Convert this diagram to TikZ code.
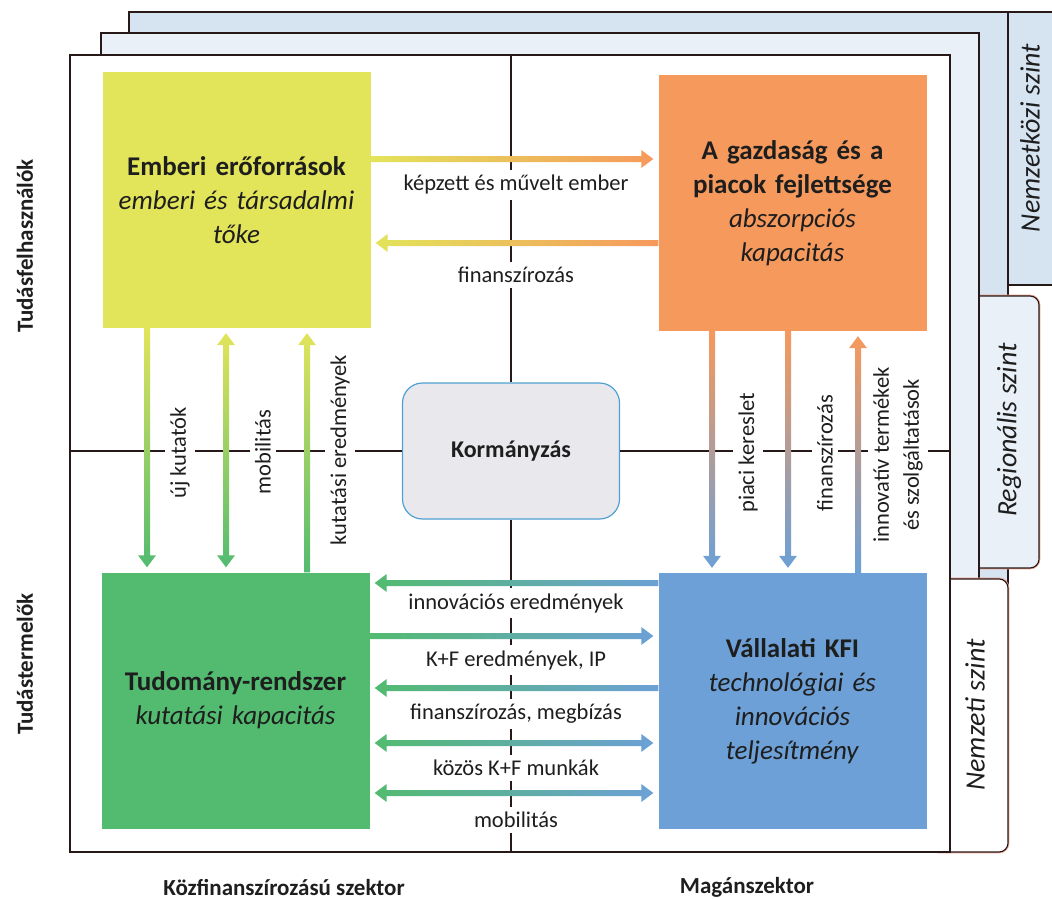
\documentclass[tikz,border=0pt]{standalone}
\usepackage{fontspec}
\setmainfont{Carlito}
\usetikzlibrary{calc}

\definecolor{ylw}{RGB}{226,228,90}
\definecolor{org}{RGB}{246,153,92}
\definecolor{grn}{RGB}{82,187,112}
\definecolor{blu}{RGB}{108,160,214}
\definecolor{govfill}{RGB}{233,233,237}
\definecolor{govline}{RGB}{80,160,210}
\definecolor{backblue}{RGB}{214,227,240}
\definecolor{midblue}{RGB}{234,240,248}
\definecolor{framedark}{RGB}{40,25,25}
\definecolor{framehalo}{RGB}{238,160,140}
\definecolor{txt}{RGB}{30,30,30}

% arrow geometry: shaft half width, head half width, head length, gap before a box
\newcommand\arrW{3pt}
\newcommand\arrH{9pt}
\newcommand\arrL{12pt}
\newcommand\arrG{5pt}

% horizontal gradient arrow: #1 shading, #2 left end, #3 right end, #4 tip at left, #5 tip at right
\newcommand\harrow[5]{%
  \ifnum#4=1
    \def\garrowA{(\x1+\arrG+\arrL,\y1+\arrW) -- (\x1+\arrG+\arrL,\y1+\arrH) -- (\x1+\arrG,\y1) -- (\x1+\arrG+\arrL,\y1-\arrH) -- (\x1+\arrG+\arrL,\y1-\arrW)}%
  \else
    \def\garrowA{(\x1,\y1+\arrW) -- (\x1,\y1-\arrW)}%
  \fi
  \ifnum#5=1
    \def\garrowB{(\x2-\arrG-\arrL,\y2-\arrW) -- (\x2-\arrG-\arrL,\y2-\arrH) -- (\x2-\arrG,\y2) -- (\x2-\arrG-\arrL,\y2+\arrH) -- (\x2-\arrG-\arrL,\y2+\arrW)}%
  \else
    \def\garrowB{(\x2,\y2-\arrW) -- (\x2,\y2+\arrW)}%
  \fi
  \shade[#1] let \p1=#2, \p2=#3 in \garrowA -- \garrowB -- cycle;
}

% vertical gradient arrow: #1 shading, #2 top end, #3 bottom end, #4 tip at top, #5 tip at bottom
\newcommand\varrow[5]{%
  \ifnum#4=1
    \def\garrowA{(\x1-\arrW,\y1-\arrG-\arrL) -- (\x1-\arrH,\y1-\arrG-\arrL) -- (\x1,\y1-\arrG) -- (\x1+\arrH,\y1-\arrG-\arrL) -- (\x1+\arrW,\y1-\arrG-\arrL)}%
  \else
    \def\garrowA{(\x1-\arrW,\y1) -- (\x1+\arrW,\y1)}%
  \fi
  \ifnum#5=1
    \def\garrowB{(\x2+\arrW,\y2+\arrG+\arrL) -- (\x2+\arrH,\y2+\arrG+\arrL) -- (\x2,\y2+\arrG) -- (\x2-\arrH,\y2+\arrG+\arrL) -- (\x2-\arrW,\y2+\arrG+\arrL)}%
  \else
    \def\garrowB{(\x2+\arrW,\y2) -- (\x2-\arrW,\y2)}%
  \fi
  \shade[#1] let \p1=#2, \p2=#3 in \garrowA -- \garrowB -- cycle;
}

\begin{document}
\begin{tikzpicture}[x=1pt,y=-1pt,
  frame/.style={draw=framedark, line width=1.1pt,
    preaction={draw=framehalo, line width=2.8pt}},
  divider/.style={draw=framedark, line width=1.1pt},
  box/.style={minimum width=268pt, minimum height=256pt, inner sep=0pt,
    text width=258pt, align=center, text=txt,
    font=\fontsize{27}{34}\selectfont},
  gov/.style={draw=govline, line width=1.2pt, fill=govfill, rounded corners=20pt,
    minimum width=217pt, minimum height=136pt, text=txt,
    font=\fontsize{24}{28}\selectfont\bfseries},
  lbl/.style={fill=white, inner xsep=3pt, inner ysep=5pt, text=txt, align=center,
    font=\fontsize{22.5}{26}\selectfont},
  vlbl/.style={lbl, rotate=90},
  side/.style={text=txt, font=\fontsize{23}{26}\selectfont\bfseries},
  tablbl/.style={rotate=90, text=txt, font=\fontsize{28}{32}\selectfont\itshape},
  page/.style={frame, fill=white, inner sep=0pt}
]
\useasboundingbox (0,0) rectangle (1052,899);
\clip (0,0) rectangle (1052,899);

% international level page (back)
\path[fill=backblue, frame] (990,12) rectangle (1075,285);
\path[fill=backblue, frame] (129,12) rectangle (1008,590);
% regional level page (middle)
\path[fill=midblue, frame, rounded corners=9pt] (960,296) rectangle (1039,568);
\path[fill=midblue, frame] (101,33) rectangle (979,590);
% national level page (front)
\path[fill=white, frame, rounded corners=9pt] (930,579) rectangle (1008,852);
\node[page, minimum width=880pt, minimum height=797pt] (nat) at (510,453.5) {};

% tab labels
\node[tablbl] (tabint) at (1030,138) {Nemzetközi szint};
\node[tablbl] (tabreg) at (1009,430) {Regionális szint};
\node[tablbl] (tabnat) at (975,715) {Nemzeti szint};

% government in the centre and the quadrant dividers
\node[gov] (gov) at (511,451) {Kormányzás};
\draw[divider] (nat.north -| gov.north) -- (gov.north);
\draw[divider] (gov.south) -- (nat.south -| gov.south);
\draw[divider] (nat.west |- gov.west) -- (gov.west);
\draw[divider] (gov.east) -- (nat.east |- gov.east);

% the four actors
\node[box, fill=ylw] (hr) at (236.5,200) {\textbf{Emberi erőforrások}\\\textit{emberi és társadalmi}\\\textit{tőke}};
\node[box, fill=org] (mkt) at (792.5,203) {\textbf{A gazdaság és a}\\\textbf{piacok fejlettsége}\\\textit{abszorpciós}\\\textit{kapacitás}};
\node[box, fill=grn] (sci) at (235.5,700.5) {\textbf{Tudomány-rendszer}\\\textit{kutatási kapacitás}};
\node[box, fill=blu] (kfi) at (792.5,701) {\textbf{Vállalati KFI}\\\textit{technológiai és}\\\textit{innovációs}\\\textit{teljesítmény}};

% flows between human resources and the market
\harrow{left color=ylw, right color=org}{(hr.east |- 0,159)}{(mkt.west |- 0,159)}{0}{1}
\harrow{left color=ylw, right color=org}{(hr.east |- 0,243)}{(mkt.west |- 0,243)}{1}{0}

% flows between science and enterprise R&D
\harrow{left color=grn, right color=blu}{(sci.east |- 0,583)}{(kfi.west |- 0,583)}{1}{0}
\harrow{left color=grn, right color=blu}{(sci.east |- 0,636)}{(kfi.west |- 0,636)}{0}{1}
\harrow{left color=grn, right color=blu}{(sci.east |- 0,688)}{(kfi.west |- 0,688)}{1}{0}
\harrow{left color=grn, right color=blu}{(sci.east |- 0,743)}{(kfi.west |- 0,743)}{1}{1}
\harrow{left color=grn, right color=blu}{(sci.east |- 0,793)}{(kfi.west |- 0,793)}{1}{1}

% flows between human resources and science
\varrow{top color=ylw, bottom color=grn}{(hr.south -| 147,0)}{(sci.north -| 147,0)}{0}{1}
\varrow{top color=ylw, bottom color=grn}{(hr.south -| 226,0)}{(sci.north -| 226,0)}{1}{1}
\varrow{top color=ylw, bottom color=grn}{(hr.south -| 307,0)}{(sci.north -| 307,0)}{1}{0}

% flows between the market and enterprise R&D
\varrow{top color=org, bottom color=blu}{(mkt.south -| 712,0)}{(kfi.north -| 712,0)}{0}{1}
\varrow{top color=org, bottom color=blu}{(mkt.south -| 788,0)}{(kfi.north -| 788,0)}{0}{1}
\varrow{top color=org, bottom color=blu}{(mkt.south -| 858,0)}{(kfi.north -| 858,0)}{1}{0}

% flow labels
\node[lbl] (l1) at (516,185) {képzett és művelt ember};
\node[lbl] (l2) at (516,275) {finanszírozás};
\node[lbl] (l3) at (516,603) {innovációs eredmények};
\node[lbl] (l4) at (516,660) {K+F eredmények, IP};
\node[lbl] (l5) at (516,714) {finanszírozás, megbízás};
\node[lbl] (l6) at (516,768) {közös K+F munkák};
\node[lbl] (l7) at (516,820) {mobilitás};
\node[vlbl] (v1) at (180,453) {új kutatók};
\node[vlbl] (v2) at (263,452) {mobilitás};
\node[vlbl] (v3) at (340,450) {kutatási eredmények};
\node[vlbl] (v4) at (748,453) {piaci kereslet};
\node[vlbl] (v5) at (825,453) {finanszírozás};
\node[vlbl, font=\fontsize{22.5}{30}\selectfont] (v6) at (898,455) {innovatív termékek\\és szolgáltatások};

% axis labels
\node[side, rotate=90] (users) at (25,246) {Tudásfelhasználók};
\node[side, rotate=90] (producers) at (25,664) {Tudástermelők};
\node[side] (public) at (284,887) {Közfinanszírozású szektor};
\node[side] (private) at (747,887) {Magánszektor};
\end{tikzpicture}
\end{document}
